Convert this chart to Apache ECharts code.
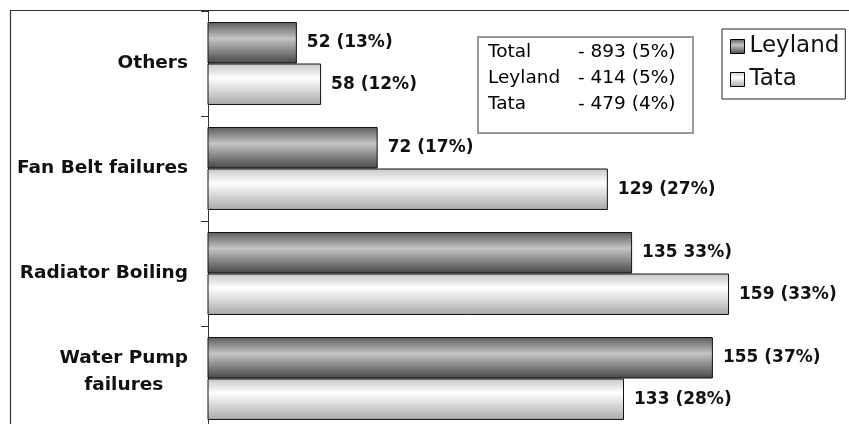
<!DOCTYPE html>
<html>
<head>
<meta charset="utf-8">
<script src="https://cdn.jsdelivr.net/npm/echarts@6/dist/echarts.min.js"></script>
<style>
  html, body { margin: 0; padding: 0; background: #fff; }
  #chart { width: 849px; height: 424px; }
</style>
</head>
<body>
<div id="chart"></div>
<script>
// categories, top to bottom
const categorias = ['Others', 'Fan Belt failures', 'Radiator Boiling', 'Water Pump\nfailures'];

const leyland = [52, 72, 135, 155];
const tata = [58, 129, 159, 133];

// labels as printed on the original (typo kept)
const rotulosLeyland = ['52 (13%)', '72 (17%)', '135 33%)', '155 (37%)'];
const rotulosTata = ['58 (12%)', '129 (27%)', '159 (33%)', '133 (28%)'];

// summary box
const resumoNomes = ['Total', 'Leyland', 'Tata'];
const resumoValores = ['- 893 (5%)', '- 414 (5%)', '- 479 (4%)'];

const corLeyland = new echarts.graphic.LinearGradient(0, 0, 0, 1, [
  { offset: 0, color: '#5c5c5c' },
  { offset: 0.4, color: '#c4c4c4' },
  { offset: 1, color: '#464646' }
]);
const corTata = new echarts.graphic.LinearGradient(0, 0, 0, 1, [
  { offset: 0, color: '#c6c6c6' },
  { offset: 0.35, color: '#ffffff' },
  { offset: 1, color: '#a8a8a8' }
]);

const rotulo = (lista) => ({
  show: true,
  position: 'right',
  distance: 10,
  fontFamily: 'DejaVu Sans',
  fontWeight: 'bold',
  fontSize: 17,
  color: '#111',
  formatter: p => lista[p.dataIndex]
});

// multi-line labels sit a bit higher than the band centre in the original
function rotuloCategoria(v) {
  const linhas = v.split('\n');
  if (linhas.length === 1) return '{a|' + v + '}';
  return linhas.map(l => '{a|' + l + '}').join('\n') + '\n{c| }';
}

const chart = echarts.init(document.getElementById('chart'));
chart.setOption({
  animation: false,
  backgroundColor: '#fff',
  grid: { left: 208, top: 11, right: 0, height: 420, outerBoundsMode: 'none' },
  xAxis: { type: 'value', min: 30, max: 188.7, show: false },
  yAxis: {
    type: 'category',
    inverse: true,
    data: categorias,
    axisLine: { lineStyle: { color: '#333', width: 1 } },
    axisTick: { show: true, length: 7, lineStyle: { color: '#333', width: 1 } },
    axisLabel: {
      margin: 20,
      formatter: rotuloCategoria,
      rich: {
        a: { align: 'center', fontFamily: 'DejaVu Sans', fontWeight: 'bold', fontSize: 18.5, color: '#111', lineHeight: 27 },
        c: { fontSize: 10, lineHeight: 14 }
      }
    }
  },
  legend: {
    orient: 'vertical',
    left: 722,
    top: 29,
    padding: [6, 6, 8, 8],
    itemGap: 10,
    itemWidth: 14,
    itemHeight: 14,
    borderColor: '#222',
    borderWidth: 1,
    icon: 'rect',
    itemStyle: { borderColor: '#000', borderWidth: 1 },
    textStyle: { fontFamily: 'DejaVu Sans', fontSize: 23, color: '#111' },
    data: ['Leyland', 'Tata']
  },
  graphic: [
    {
      type: 'rect', silent: true, z: -1,
      shape: { x: 10.5, y: 10.5, width: 900, height: 500 },
      style: { fill: 'none', stroke: '#333', lineWidth: 1.2 }
    },
    {
      type: 'rect', silent: true,
      shape: { x: 478, y: 37, width: 215, height: 96 },
      style: { fill: '#fff', stroke: '#999', lineWidth: 2 }
    },
    {
      type: 'text', silent: true, left: 488, top: 42.5,
      style: {
        text: resumoNomes.map((n, i) => '{n|' + n + '}{v|' + resumoValores[i] + '}').join('\n'),
        rich: {
          n: { width: 90, fontFamily: 'DejaVu Sans', fontSize: 18.5, color: '#111', lineHeight: 26 },
          v: { fontFamily: 'DejaVu Sans', fontSize: 18.5, color: '#111', lineHeight: 26 }
        }
      }
    }
  ],
  series: [
    {
      name: 'Leyland', type: 'bar', data: leyland,
      barGap: '0%', barCategoryGap: '21%',
      itemStyle: { color: corLeyland, borderColor: '#111', borderWidth: 1 },
      label: rotulo(rotulosLeyland)
    },
    {
      name: 'Tata', type: 'bar', data: tata,
      barGap: '0%', barCategoryGap: '21%',
      itemStyle: { color: corTata, borderColor: '#111', borderWidth: 1 },
      label: rotulo(rotulosTata)
    }
  ]
});
</script>
</body>
</html>
